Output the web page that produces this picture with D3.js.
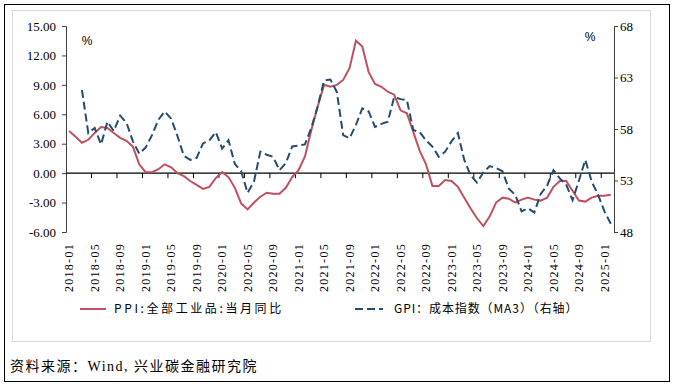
<!DOCTYPE html>
<html>
<head>
<meta charset="utf-8">
<script src="https://cdn.jsdelivr.net/npm/d3@7"></script>
<style>
  body { margin: 0; background: #fff; }
  svg { display: block; }
</style>
</head>
<body>
<div id="chart"></div>
<script>
// months 2018-01 .. 2025-02
const months = d3.timeMonths(new Date(2018, 0, 1), new Date(2025, 2, 1)).map(d3.timeFormat("%Y-%m"));

// PPI: 全部工业品: 当月同比 (%)
const ppi = [
  4.3, 3.7, 3.1, 3.4, 4.1, 4.7, 4.6, 4.1, 3.6, 3.3, 2.7, 0.9,
  0.1, 0.1, 0.4, 0.9, 0.6, 0.0, -0.3, -0.8, -1.2, -1.6, -1.4, -0.5,
  0.1, -0.4, -1.5, -3.1, -3.7, -3.0, -2.4, -2.0, -2.1, -2.1, -1.5, -0.4,
  0.3, 1.7, 4.4, 6.8, 9.0, 8.8, 9.0, 9.5, 10.7, 13.5, 12.9, 10.3,
  9.1, 8.8, 8.3, 8.0, 6.4, 6.1, 4.2, 2.3, 0.9, -1.3, -1.3, -0.7,
  -0.8, -1.4, -2.5, -3.6, -4.6, -5.4, -4.4, -3.0, -2.5, -2.6, -3.0, -2.7,
  -2.5, -2.7, -2.8, -2.5, -1.4, -0.8, -0.8, -1.8, -2.8, -2.9, -2.5, -2.3,
  -2.3, -2.2
];

// GPI: 成本指数 (MA3), right axis
const gpi = [
  null, null, 61.8, 57.6, 58.1, 56.5, 58.7, 57.8, 59.3, 58.6, 56.8, 55.6,
  56.2, 57.4, 58.9, 59.7, 59.0, 57.3, 55.4, 55.0, 55.2, 56.6, 56.9, 57.7,
  56.1, 56.9, 54.6, 53.9, 51.8, 52.9, 55.8, 55.5, 55.3, 54.0, 54.7, 56.3,
  56.4, 56.5, 58.1, 60.2, 62.7, 62.8, 61.6, 57.4, 57.1, 58.4, 60.0, 59.7,
  58.2, 58.5, 58.7, 61.1, 60.9, 60.8, 57.9, 57.7, 56.9, 56.3, 55.3, 55.8,
  56.8, 57.6, 55.0, 53.5, 52.8, 53.8, 54.4, 54.2, 53.9, 52.2, 51.6, 50.0,
  50.3, 49.9, 51.7, 52.5, 54.0, 53.2, 52.6, 51.1, 53.0, 55.0, 52.9, 51.6,
  50.0, 48.8
];

const leftTicks = [-6, -3, 0, 3, 6, 9, 12, 15];
const rightTicks = [48, 53, 58, 63, 68];

const W = 674, H = 384;
const plot = {left: 66, right: 614, top: 26, bottom: 232};

const svg = d3.select("#chart").append("svg")
    .attr("width", W)
    .attr("height", H);

// frames
svg.append("rect")
    .attr("x", 4.5).attr("y", 4.5)
    .attr("width", 665).attr("height", 377)
    .attr("fill", "none").attr("stroke", "#000");
svg.append("rect")
    .attr("x", 12.5).attr("y", 10.5)
    .attr("width", 638).attr("height", 331)
    .attr("fill", "none").attr("stroke", "#d9d9d9");

const x = d3.scalePoint()
    .domain(months)
    .range([plot.left, plot.right])
    .padding(0.5);
const step = x.step();

const yL = d3.scaleLinear().domain([-6, 15]).range([plot.bottom, plot.top]);
const yR = d3.scaleLinear().domain([48, 68]).range([plot.bottom, plot.top]);

// left axis
const gL = svg.append("g")
    .attr("transform", `translate(${plot.left},0)`)
    .call(d3.axisLeft(yL).tickValues(leftTicks).tickSize(4).tickPadding(6)
        .tickFormat(d => d.toFixed(2)));

// right axis
const gR = svg.append("g")
    .attr("transform", `translate(${plot.right},0)`)
    .call(d3.axisRight(yR).tickValues(rightTicks).tickSize(4).tickPadding(2));

[gL, gR].forEach(g => {
  g.select(".domain").attr("stroke", "#404040");
  g.selectAll(".tick line").attr("stroke", "#404040");
  g.selectAll(".tick text")
      .attr("font-family", "'Liberation Serif', serif")
      .attr("font-size", 13)
      .attr("fill", "#000");
});

// zero line with category ticks every 4 months
const y0 = yL(0);
svg.append("line")
    .attr("x1", plot.left).attr("x2", plot.right)
    .attr("y1", y0).attr("y2", y0)
    .attr("stroke", "#000").attr("stroke-width", 1.2);

const tickMonths = months.filter((m, i) => i > 0 && i % 4 === 0);
svg.append("g")
  .selectAll("line")
  .data(tickMonths)
  .join("line")
    .attr("x1", d => x(d) - step / 2)
    .attr("x2", d => x(d) - step / 2)
    .attr("y1", y0)
    .attr("y2", y0 + 5)
    .attr("stroke", "#000");

// month labels
const labelMonths = months.filter((m, i) => i % 4 === 0);
svg.append("g")
  .selectAll("text")
  .data(labelMonths)
  .join("text")
    .attr("transform", d => `translate(${x(d)},${plot.bottom + 11}) rotate(-90)`)
    .attr("text-anchor", "end")
    .attr("dy", "0.35em")
    .attr("font-family", "'Liberation Serif', serif")
    .attr("font-size", 12)
    .attr("letter-spacing", 1.3)
    .text(d => d);

// % units
svg.append("text").attr("x", 87).attr("y", 45).attr("text-anchor", "middle")
    .attr("font-family", "'Liberation Sans', sans-serif").attr("font-size", 12).text("%");
svg.append("text").attr("x", 590).attr("y", 41).attr("text-anchor", "middle")
    .attr("font-family", "'Liberation Sans', sans-serif").attr("font-size", 12).text("%");

// lines
const redColor = "#c0505f";
const blueColor = "#244c6e";

const linePPI = d3.line()
    .x((d, i) => x(months[i]))
    .y(d => yL(d));

const lineGPI = d3.line()
    .defined(d => d != null)
    .x((d, i) => x(months[i]))
    .y(d => yR(d));

svg.append("path")
    .datum(ppi)
    .attr("d", linePPI)
    .attr("fill", "none")
    .attr("stroke", redColor)
    .attr("stroke-width", 2);

svg.append("path")
    .datum(gpi)
    .attr("d", lineGPI)
    .attr("fill", "none")
    .attr("stroke", blueColor)
    .attr("stroke-width", 2)
    .attr("stroke-dasharray", "8,4");

// legend
const legY = 309;
svg.append("line")
    .attr("x1", 80).attr("x2", 106).attr("y1", legY).attr("y2", legY)
    .attr("stroke", redColor).attr("stroke-width", 2);
svg.append("text")
    .attr("x", 114).attr("y", legY + 4)
    .attr("font-family", "'Noto Sans CJK SC', sans-serif")
    .attr("font-size", 12)
    .attr("letter-spacing", 2.6)
    .text("PPI:全部工业品:当月同比");

svg.append("line")
    .attr("x1", 355).attr("x2", 383).attr("y1", legY).attr("y2", legY)
    .attr("stroke", blueColor).attr("stroke-width", 2)
    .attr("stroke-dasharray", "8,4");
svg.append("text")
    .attr("x", 394).attr("y", legY + 4)
    .attr("font-family", "'Noto Sans CJK SC', sans-serif")
    .attr("font-size", 12)
    .attr("letter-spacing", 0.9)
    .text("GPI：成本指数（MA3）（右轴）");

// source
svg.append("text")
    .attr("x", 10).attr("y", 371)
    .attr("font-family", "'Liberation Serif', 'Noto Sans CJK SC', serif")
    .attr("font-size", 14)
    .attr("letter-spacing", 1.5)
    .text("资料来源：Wind, 兴业碳金融研究院");
</script>
</body>
</html>
